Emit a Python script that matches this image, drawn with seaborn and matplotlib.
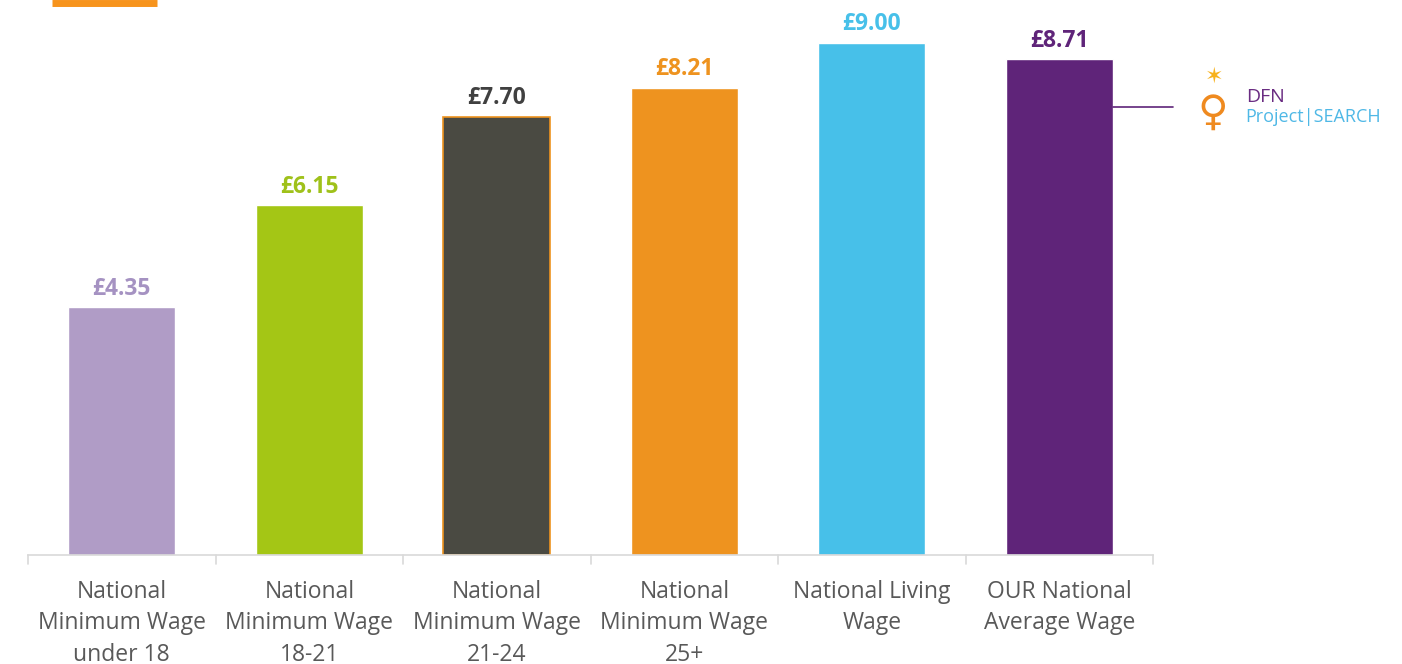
import matplotlib.pyplot as plt
import pandas as pd
import seaborn as sns

categories = [
    "National\nMinimum Wage\nunder 18",
    "National\nMinimum Wage\n18-21",
    "National\nMinimum Wage\n21-24",
    "National\nMinimum Wage\n25+",
    "National Living\nWage",
    "OUR National\nAverage Wage",
]
wages = [4.35, 6.15, 7.70, 8.21, 9.00, 8.71]
bar_colors = ["#b09cc6", "#a4c615", "#4a4a42", "#ee931f", "#47c0e9", "#5f2479"]
label_colors = ["#a592c2", "#9fc11a", "#404040", "#ee931f", "#47c0e9", "#5f2479"]

sns.set_theme(style="white")
plt.rcParams["font.family"] = ["Open Sans", "DejaVu Sans"]

fig = plt.figure(figsize=(14.02, 6.64), dpi=100)
ax = fig.add_axes([0.020, 0.164, 0.8025, 0.836])

df = pd.DataFrame({"category": categories, "wage": wages})
sns.barplot(data=df, x="category", y="wage", hue="category",
            palette=bar_colors, legend=False, width=0.57, ax=ax,
            saturation=1)

# dark bar has a thin orange outline
ax.patches[2].set_edgecolor("#ee931f")
ax.patches[2].set_linewidth(1.2)

for i, (v, c) in enumerate(zip(wages, label_colors)):
    ax.text(i, v + 0.11, f"£{v:.2f}", ha="center", va="bottom",
            fontsize=16.5, fontweight="bold", color=c)

ax.set_ylim(0, 9.75)
ax.set_xlim(-0.5, len(categories) - 0.5)
ax.set_xlabel("")
ax.set_ylabel("")
ax.set_yticks([])
for s in ["top", "right", "left"]:
    ax.spines[s].set_visible(False)
ax.spines["bottom"].set_color("#d9d9d9")
ax.spines["bottom"].set_linewidth(1.2)

ax.set_xticks(range(len(categories)))
ax.set_xticklabels(categories, fontsize=16.5, color="#595959", linespacing=1.4)
ax.tick_params(axis="x", length=0, pad=18)
# divider tick marks between categories
for b in [x - 0.5 for x in range(len(categories) + 1)]:
    ax.plot([b, b], [0, -0.15], color="#d9d9d9", lw=1.2, clip_on=False)

# orange accent at the top left
fig.add_artist(plt.Line2D([52 / 1402, 157 / 1402], [1 - 3 / 664, 1 - 3 / 664],
                          color="#f7941d", lw=5, solid_capstyle="butt"))
# purple connector to the logo
fig.add_artist(plt.Line2D([1113 / 1402, 1173 / 1402], [1 - 107 / 664, 1 - 107 / 664],
                          color="#5f2479", lw=1.2))

# logo
fig.text(1246 / 1402, 1 - 97 / 664, "DFN", color="#6a2c82", fontsize=14,
         va="center", ha="left")
fig.text(1245 / 1402, 1 - 117 / 664, "Project|SEARCH", color="#4fb8e6",
         fontsize=13, va="center", ha="left")
fig.text(1214 / 1402, 1 - 77 / 664, "✶", color="#f7b21d", fontsize=16,
         va="center", ha="center", family=["DejaVu Sans"])
fig.text(1213 / 1402, 1 - 113 / 664, "♀", color="#ef8a1f", fontsize=30,
         va="center", ha="center", family=["DejaVu Sans"])

fig.savefig("out.png", dpi=100)
